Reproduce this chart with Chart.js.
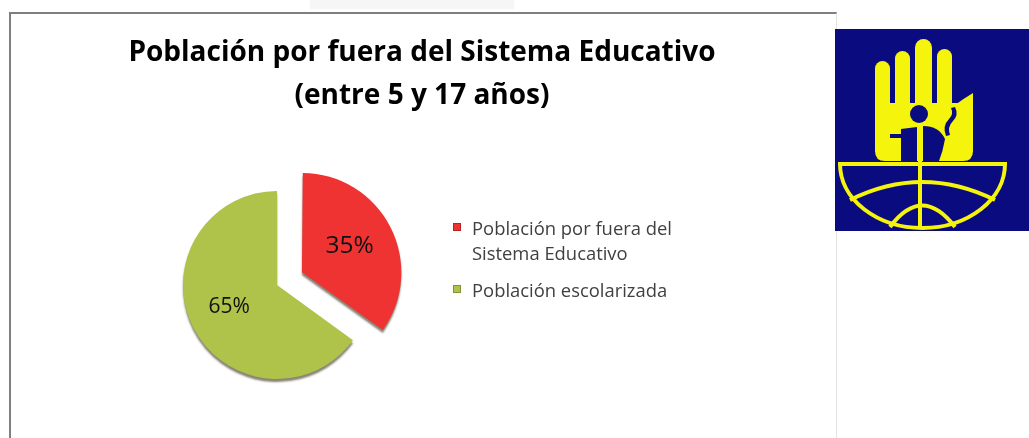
<!DOCTYPE html>
<html lang="es">
<head>
    <meta charset="UTF-8">
    <title>Población por fuera del Sistema Educativo</title>
    <script src="https://cdn.jsdelivr.net/npm/chart.js"></script>
    <style>
        body {
            margin: 0;
            width: 1029px;
            height: 438px;
            overflow: hidden;
            background: #fff;
            font-family: "Open Sans", Lato, sans-serif;
            position: relative;
        }
        .tab {
            position: absolute;
            left: 310px;
            top: 0;
            width: 204px;
            height: 9px;
            background: #f6f6f6;
        }
        .marco {
            position: absolute;
            left: 9px;
            top: 12px;
            width: 825px;
            height: 440px;
            border-left: 2px solid #7f7f7f;
            border-top: 2px solid #7f7f7f;
            border-right: 1px solid #e4e4e4;
        }
        #grafico {
            position: absolute;
            left: 0;
            top: 0;
        }
        .titulo {
            position: absolute;
            left: 9px;
            top: 29px;
            width: 826px;
            text-align: center;
            font-weight: bold;
            font-size: 28px;
            line-height: 43px;
            color: #000;
        }
        #leyenda {
            position: absolute;
            left: 453px;
            top: 215px;
            width: 245px;
            font-size: 18.4px;
            line-height: 25px;
            color: #404040;
        }
        #leyenda .item {
            position: relative;
            padding-left: 19px;
            margin-bottom: 12px;
        }
        #leyenda .cuadro {
            position: absolute;
            left: 0;
            top: 8px;
            width: 8px;
            height: 8px;
        }
        .logo {
            position: absolute;
            left: 835px;
            top: 29px;
        }
    </style>
</head>
<body>

<div class="tab"></div>
<div class="marco"></div>

<canvas id="grafico" width="835" height="438"></canvas>

<div class="titulo" id="titulo"></div>
<div id="leyenda"></div>

<svg class="logo" width="194" height="202" viewBox="0 0 194 202">
    <rect x="0" y="0" width="194" height="202" fill="#0b0b80"/>
    <!-- mano -->
    <g fill="#f4f40c">
        <rect x="40" y="32" width="15" height="80" rx="7.5"/>
        <rect x="60" y="22" width="15" height="80" rx="7.5"/>
        <rect x="80" y="10" width="17" height="90" rx="8.5"/>
        <rect x="102" y="20" width="15" height="85" rx="7.5"/>
        <path d="M120 76 Q128 70 138 64 L138 112 L120 112 Z"/>
        <path d="M40 74 L138 74 L138 122 Q138 132 128 132 L50 132 Q40 132 40 122 Z"/>
    </g>
    <!-- persona -->
    <g fill="#0b0b80">
        <circle cx="84" cy="85" r="9"/>
        <path d="M66 100 L82 98 L82 132 L66 132 Z"/>
        <path d="M88 97 Q104 97 110 110 Q108 122 104 132 L88 132 Z"/>
        <rect x="55" y="105" width="14" height="4"/>
        <path d="M120 78 Q124 86 118 92 Q112 98 115 106 L111 107 Q107 97 114 90 Q119 85 116 79 Z"/>
    </g>
    <!-- globo -->
    <g fill="none" stroke="#f4f40c" stroke-width="4">
        <path d="M5 135 L170 135 A82.5 64 0 0 1 5 135 Z"/>
        <line x1="85" y1="98" x2="85" y2="199"/>
        <path d="M15 171 Q87 135 160 171"/>
        <path d="M55 198 Q87 155 120 198"/>
    </g>
</svg>

<script>
    // datos del gráfico
    const titulo = ['Población por fuera del Sistema Educativo', '(entre 5 y 17 años)'];
    const categorias = ['Población por fuera del Sistema Educativo', 'Población escolarizada'];
    const porcentajes = [35, 65];
    const colores = ['#ef3232', '#afc24a'];

    document.getElementById('titulo').innerHTML = titulo.join('<br>');

    // leyenda en html para poder partir el texto en dos líneas
    const leyenda = document.getElementById('leyenda');
    categorias.forEach(function(cat, i) {
        const item = document.createElement('div');
        item.className = 'item';
        item.innerHTML = '<span class="cuadro" style="background:' + colores[i] +
            ';box-shadow: inset 0 0 0 1px rgba(0,0,0,0.25)"></span>' + cat;
        leyenda.appendChild(item);
    });

    // sombra debajo de las porciones, imita el borde 3D del original
    const sombra = {
        id: 'sombra',
        beforeDatasetsDraw(chart) {
            const ctx = chart.ctx;
            ctx.save();
            ctx.shadowColor = 'rgba(40, 30, 0, 0.55)';
            ctx.shadowOffsetY = 3;
            ctx.shadowBlur = 2;
        },
        afterDatasetsDraw(chart) {
            chart.ctx.restore();
        }
    };

    // escribe el porcentaje dentro de cada porción
    const etiquetas = {
        id: 'etiquetas',
        afterDatasetsDraw(chart) {
            const ctx = chart.ctx;
            const meta = chart.getDatasetMeta(0);
            const tamanos = [24.5, 21];
            meta.data.forEach(function(arc, i) {
                const p = arc.getProps(['x', 'y', 'startAngle', 'endAngle', 'outerRadius']);
                const medio = (p.startAngle + p.endAngle) / 2;
                // chart.js desplaza la porción offset/4
                const r = p.outerRadius * 0.57 + (arc.options.offset || 0) / 4;
                ctx.save();
                ctx.font = tamanos[i] + 'px "Open Sans", sans-serif';
                ctx.fillStyle = '#111';
                ctx.textAlign = 'center';
                ctx.textBaseline = 'middle';
                ctx.fillText(porcentajes[i] + '%', p.x + Math.cos(medio) * r, p.y + Math.sin(medio) * r - 2);
                ctx.restore();
            });
        }
    };

    const ctx = document.getElementById('grafico').getContext('2d');
    new Chart(ctx, {
        type: 'pie',
        data: {
            labels: categorias,
            datasets: [{
                data: porcentajes,
                backgroundColor: colores,
                borderWidth: 0,
                offset: [112, 0],
                clip: false
            }]
        },
        options: {
            responsive: false,
            animation: false,
            radius: 94,
            layout: {
                padding: { left: 20, right: 301, top: 170, bottom: 38 }
            },
            plugins: {
                legend: { display: false },
                title: { display: false },
                tooltip: { enabled: false }
            }
        },
        plugins: [sombra, etiquetas]
    });
</script>

</body>
</html>
